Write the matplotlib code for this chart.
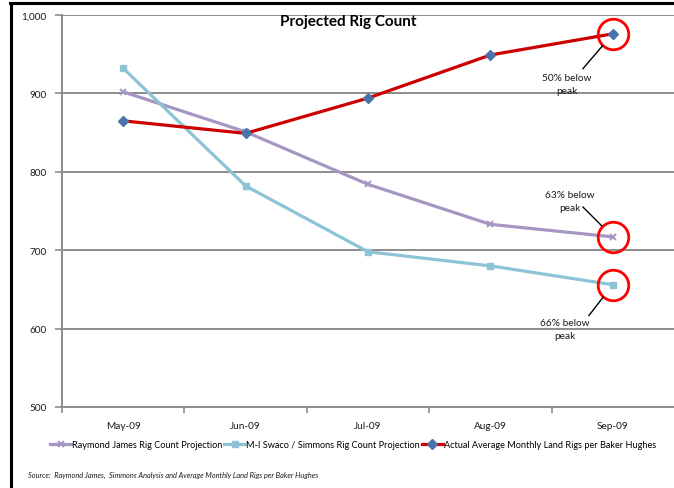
import matplotlib
matplotlib.use("Agg")
import matplotlib.pyplot as plt
from matplotlib.lines import Line2D
from matplotlib.ticker import FuncFormatter, FixedLocator

plt.rcParams['font.family'] = ['Lato', 'DejaVu Sans']

months = ["May-09", "Jun-09", "Jul-09", "Aug-09", "Sep-09"]
raymond_james = [902, 851, 784, 733, 717]
mi_swaco = [932, 782, 698, 680, 656]
baker_hughes = [865, 849, 894, 949, 976]

series_names = [
    "Raymond James Rig Count Projection",
    "M-I Swaco / Simmons Rig Count Projection",
    "Actual Average Monthly Land Rigs per Baker Hughes",
]
callouts = ["50% below\npeak", "63% below\npeak", "66% below\npeak"]
title = "Projected Rig Count"
source = "Source:  Raymond James,  Simmons Analysis and Average Monthly Land Rigs per Baker Hughes"

W, H = 674, 489
fig = plt.figure(figsize=(W / 100, H / 100), dpi=100)
fig.patch.set_facecolor("white")

ax = fig.add_axes([62 / W, 1 - 408 / H, (W - 62) / W, (408 - 16) / H])
x = list(range(len(months)))

grid_c = "#8c8c8c"
ax.set_ylim(500, 1000)
ax.set_xlim(-0.5, 4.5)
ax.set_yticks([500, 600, 700, 800, 900, 1000])
ax.yaxis.set_major_formatter(FuncFormatter(lambda v, p: f"{int(v):,}"))
ax.grid(axis="y", color=grid_c, linewidth=1.4)
ax.set_axisbelow(True)
for s in ["top", "right"]:
    ax.spines[s].set_visible(False)
for s in ["left", "bottom"]:
    ax.spines[s].set_color(grid_c)
    ax.spines[s].set_linewidth(1.4)

ax.set_xticks(x)
ax.set_xticklabels(months)
ax.xaxis.set_minor_locator(FixedLocator([-0.5, 0.5, 1.5, 2.5, 3.5]))
ax.tick_params(axis="x", which="major", length=0, pad=10, labelsize=7.2, labelcolor="#1a1a1a")
ax.tick_params(axis="x", which="minor", length=4, color=grid_c, width=1.2)
ax.tick_params(axis="y", length=5, color=grid_c, width=1.2, pad=6, labelsize=7.2, labelcolor="#1a1a1a")

rj_c = "#a596c2"
mi_c = "#8cc3d6"
bh_c = "#cc0000"
bh_m = "#4a72ab"

ax.plot(x, raymond_james, color=rj_c, lw=2.3, marker="x", ms=4.5, mec=rj_c, mew=1.4, zorder=3)
ax.plot(x, mi_swaco, color=mi_c, lw=2.3, marker="s", ms=5, mfc=mi_c, mec=mi_c, zorder=3)
ax.plot(x, baker_hughes, color=bh_c, lw=2.3, marker="D", ms=5, mfc=bh_m, mec=bh_m, zorder=4)

# red rings around the September values
last = x[-1]
for vals in (baker_hughes, raymond_james, mi_swaco):
    ax.plot([last], [vals[-1]], marker="o", ms=22, mfc="none", mec="#ff0000", mew=2.0, zorder=5)

# callout leaders and labels (offsets in pixels from the ringed point)
specs = [
    (baker_hughes[-1], (-30, -35), (-46, -50)),
    (raymond_james[-1], (-30, 30), (-43, 36)),
    (mi_swaco[-1], (-24, -31), (-48, -44)),
]
for (val, lead_end, text_pos), txt in zip(specs, callouts):
    ax.annotate("", xy=(last, val), xytext=lead_end, textcoords="offset pixels",
                arrowprops=dict(arrowstyle="-", color="black", lw=1.0,
                                shrinkA=0, shrinkB=15.5 * 0.72), zorder=6)
    ax.annotate(txt, xy=(last, val), xytext=text_pos, textcoords="offset pixels",
                ha="center", va="center", fontsize=7.3, color="#1a1a1a",
                linespacing=1.55, zorder=6)

fig.text(348 / W, 1 - 22 / H, title, fontsize=11, fontweight="bold",
         ha="center", va="center", color="black")

handles = [
    Line2D([], [], color=rj_c, lw=2.3, marker="x", ms=4.5, mec=rj_c, mew=1.4),
    Line2D([], [], color=mi_c, lw=2.3, marker="s", ms=5, mfc=mi_c, mec=mi_c),
    Line2D([], [], color=bh_c, lw=2.3, marker="D", ms=5, mfc=bh_m, mec=bh_m),
]
fig.legend(handles, series_names, loc="center", bbox_to_anchor=(353 / W, 1 - 446 / H),
           ncol=3, frameon=False, fontsize=6.6, handlelength=2.3, handletextpad=0.1,
           columnspacing=0.2)

fig.text(28 / W, 1 - 475 / H, source, fontsize=5.3, style="italic", va="center", color="#1a1a1a")

# outer frame on the top and left edges
fig.add_artist(Line2D([10 / W, 1], [1 - 3.5 / H, 1 - 3.5 / H], color="black", lw=2.2))
fig.add_artist(Line2D([10.5 / W, 10.5 / W], [0, 1 - 3.5 / H], color="black", lw=2.2))

fig.savefig("out.png", dpi=100)
